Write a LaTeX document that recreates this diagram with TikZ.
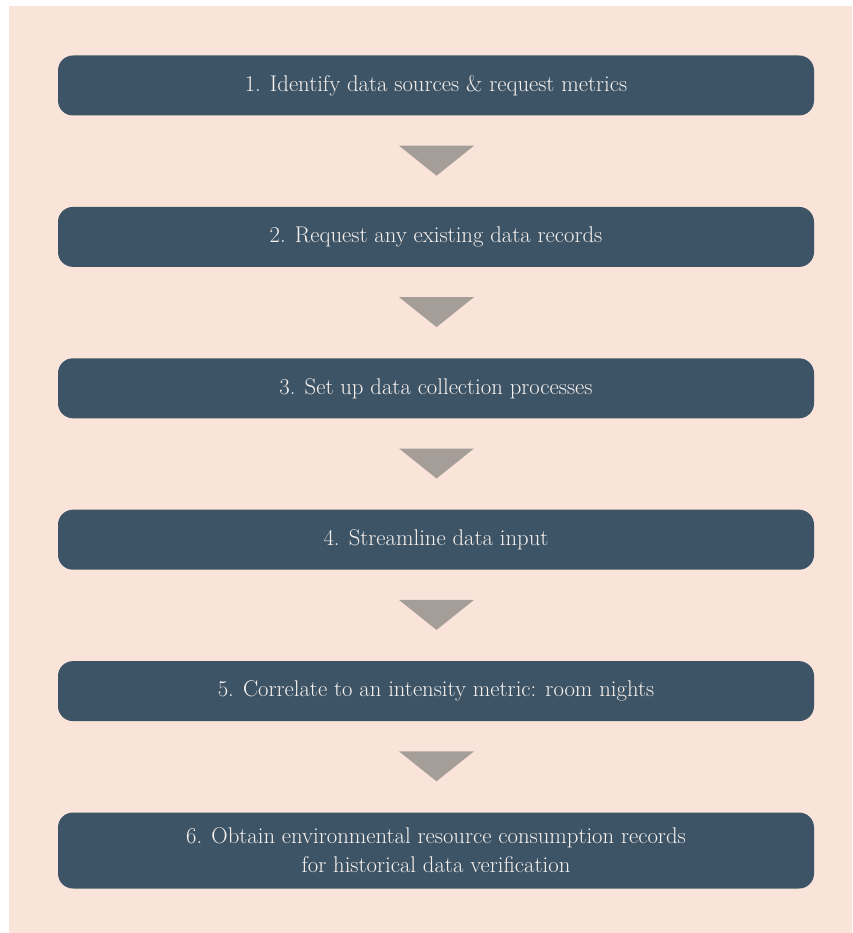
\documentclass[tikz,border=0pt]{standalone}
\usepackage{tikz}
\usetikzlibrary{positioning}
\usetikzlibrary{calc}
\definecolor{pagepeach}{RGB}{250,228,218}
\definecolor{boxslate}{RGB}{61,84,102}
\definecolor{arrowgray}{RGB}{165,158,152}
\definecolor{boxtext}{RGB}{248,242,238}
\tikzset{stepbox/.style={fill=boxslate,rounded corners=15pt,minimum width=756pt,minimum height=60pt,
  inner sep=0pt,text=boxtext,align=center,font=\fontsize{22.7}{29}\selectfont}}
\begin{document}
\begin{tikzpicture}[x=1pt,y=-1pt,node distance=91pt]
\useasboundingbox (0,0) rectangle (852,933);
\fill[pagepeach] (9,6) rectangle (852,933);
\node[stepbox] (s1) at (436,85.5) {1. Identify data sources \& request metrics};
\node[stepbox, below=of s1] (s2) {2. Request any existing data records};
\node[stepbox, below=of s2] (s3) {3. Set up data collection processes};
\node[stepbox, below=of s3] (s4) {4. Streamline data input};
\node[stepbox, below=of s4] (s5) {5. Correlate to an intensity metric: room nights};
\node[stepbox, below=of s5, minimum height=76pt] (s6) {6. Obtain environmental resource consumption records\\for historical data verification};
\foreach \i in {1,...,5} {
\fill[arrowgray] ($(s\i.south)+(-37,30)$) -- ++(75,0) -- ($(s\i.south)+(0.5,60)$) -- cycle;
}
\end{tikzpicture}
\end{document}
